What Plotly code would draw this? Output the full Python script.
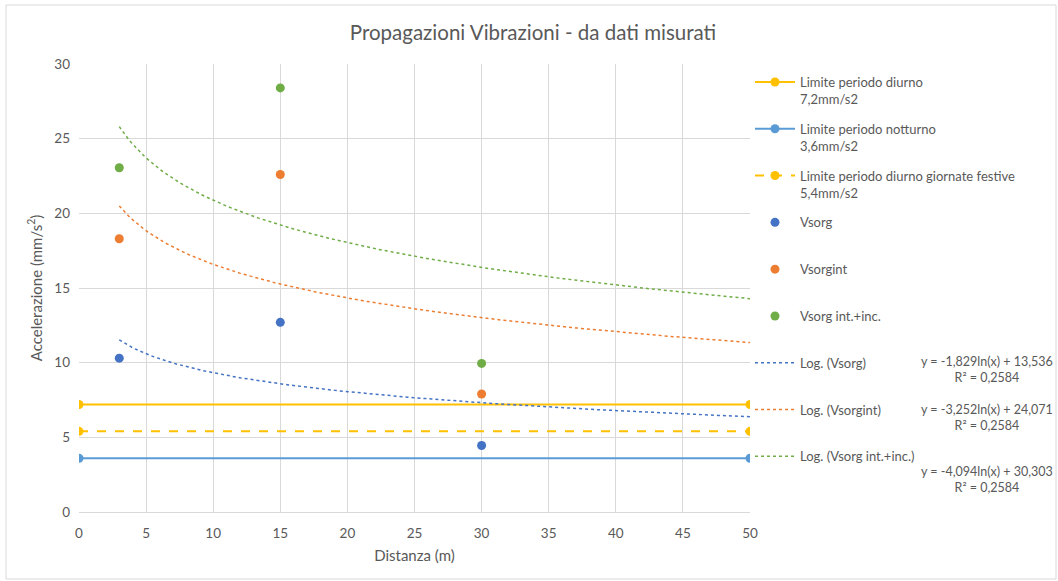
import numpy as np
import plotly.graph_objects as go

# ---- data ----
distances = [3, 15, 30]
vsorg = [10.3, 12.7, 4.45]
vsorgint = [18.3, 22.6, 7.9]
vsorg_int_inc = [23.05, 28.4, 9.95]

limit_x = [0, 50]
limit_diurno = [7.2, 7.2]
limit_notturno = [3.6, 3.6]
limit_festive = [5.4, 5.4]

trend_names = ["Log. (Vsorg)", "Log. (Vsorgint)", "Log. (Vsorg int.+inc.)"]
trend_slopes = [-1.829, -3.252, -4.094]
trend_intercepts = [13.536, 24.071, 30.303]
trend_r2 = ["0,2584", "0,2584", "0,2584"]
trend_range = [3, 50]

x_ticks = [0, 5, 10, 15, 20, 25, 30, 35, 40, 45, 50]
y_ticks = [0, 5, 10, 15, 20, 25, 30]

GRAY = "#595959"
FONT = "Lato"
YELLOW = "#FFC000"
LBLUE = "#5B9BD5"
BLUE = "#4472C4"
ORANGE = "#ED7D31"
GREEN = "#70AD47"

fig = go.Figure()

def lg(i):
    return dict(legendgroup=f"g{i}", legendrank=i)

fig.add_trace(go.Scatter(x=limit_x, y=limit_diurno, mode="lines+markers",
                         name="Limite periodo diurno<br>7,2mm/s2",
                         line=dict(color=YELLOW, width=2), marker=dict(size=9, color=YELLOW), **lg(1)))
fig.add_trace(go.Scatter(x=limit_x, y=limit_notturno, mode="lines+markers",
                         name="Limite periodo notturno<br>3,6mm/s2",
                         line=dict(color=LBLUE, width=2), marker=dict(size=9, color=LBLUE), **lg(2)))
fig.add_trace(go.Scatter(x=limit_x, y=limit_festive, mode="lines+markers",
                         name="Limite periodo diurno giornate festive<br>5,4mm/s2",
                         line=dict(color=YELLOW, width=2, dash="dash"), marker=dict(size=9, color=YELLOW), **lg(3)))

trend_colors = [BLUE, ORANGE, GREEN]
xs = np.linspace(trend_range[0], trend_range[1], 200)
for i, (nm, a, b, c) in enumerate(zip(trend_names, trend_slopes, trend_intercepts, trend_colors)):
    fig.add_trace(go.Scatter(x=xs, y=a * np.log(xs) + b, mode="lines",
                             name=nm + "<br> ",
                             line=dict(color=c, width=1.5, dash="dot"), **lg(7 + i)))

for i, (nm, vals, c) in enumerate(zip(["Vsorg", "Vsorgint", "Vsorg int.+inc."],
                                       [vsorg, vsorgint, vsorg_int_inc], trend_colors)):
    fig.add_trace(go.Scatter(x=distances, y=vals, mode="markers", name=nm + "<br> ",
                             marker=dict(size=9, color=c), **lg(4 + i)))

# equations (centre x ~988 px, first line centre y)
eq_y = [362, 410, 472]
for a, b, r2, py in zip(trend_slopes, trend_intercepts, trend_r2, eq_y):
    txt = "y = %sln(x) + %s<br>R² = %s" % (f"{a:.3f}".replace(".", ","), f"{b:.3f}".replace(".", ","), r2)
    fig.add_annotation(xref="paper", yref="paper", x=(987 - 79) / 671, y=(512 - py + 10) / 448,
                       xanchor="center", yanchor="top", align="center", showarrow=False,
                       text=txt, font=dict(family=FONT, size=12.5, color=GRAY))

# outer border
fig.add_shape(type="rect", xref="paper", yref="paper",
              x0=(6 - 79) / 671, x1=(1056 - 79) / 671, y0=(512 - 579) / 448, y1=(512 - 5) / 448,
              line=dict(color="#D9D9D9", width=1), fillcolor="rgba(0,0,0,0)", layer="below")

fig.update_layout(
    width=1058, height=581,
    margin=dict(l=79, r=308, t=64, b=69),
    paper_bgcolor="white", plot_bgcolor="white",
    font=dict(family=FONT, size=13, color=GRAY),
    title=dict(text="Propagazioni Vibrazioni - da dati misurati", x=533 / 1058, xanchor="center",
               y=1 - 33 / 581, yanchor="middle", font=dict(size=20.5, color=GRAY, family=FONT)),
    showlegend=True,
    legend=dict(x=1.0, xanchor="left", y=(512 - 67) / 448, yanchor="top",
                font=dict(family=FONT, size=13, color=GRAY), tracegroupgap=10,
                itemwidth=40, valign="top", bgcolor="rgba(0,0,0,0)"),
    xaxis=dict(range=[0, 50], tickvals=x_ticks, showgrid=True, gridcolor="#D9D9D9", gridwidth=1,
               zeroline=False, showline=True, linecolor="#D9D9D9",
               ticks="outside", ticklen=5, tickcolor="rgba(0,0,0,0)",
               ticklabelstandoff=4,
               title=dict(text="Distanza (m)", font=dict(size=15, color=GRAY, family=FONT), standoff=10),
               tickfont=dict(size=13.5, color=GRAY)),
    yaxis=dict(range=[0, 30], tickvals=y_ticks, showgrid=True, gridcolor="#D9D9D9", gridwidth=1,
               zeroline=False, showline=False, ticks="",
               ticklabelstandoff=8,
               title=dict(text="Accelerazione (mm/s<sup>2</sup>)", font=dict(size=15, color=GRAY, family=FONT), standoff=8),
               tickfont=dict(size=13.5, color=GRAY)),
)

fig.write_html("out.html")
